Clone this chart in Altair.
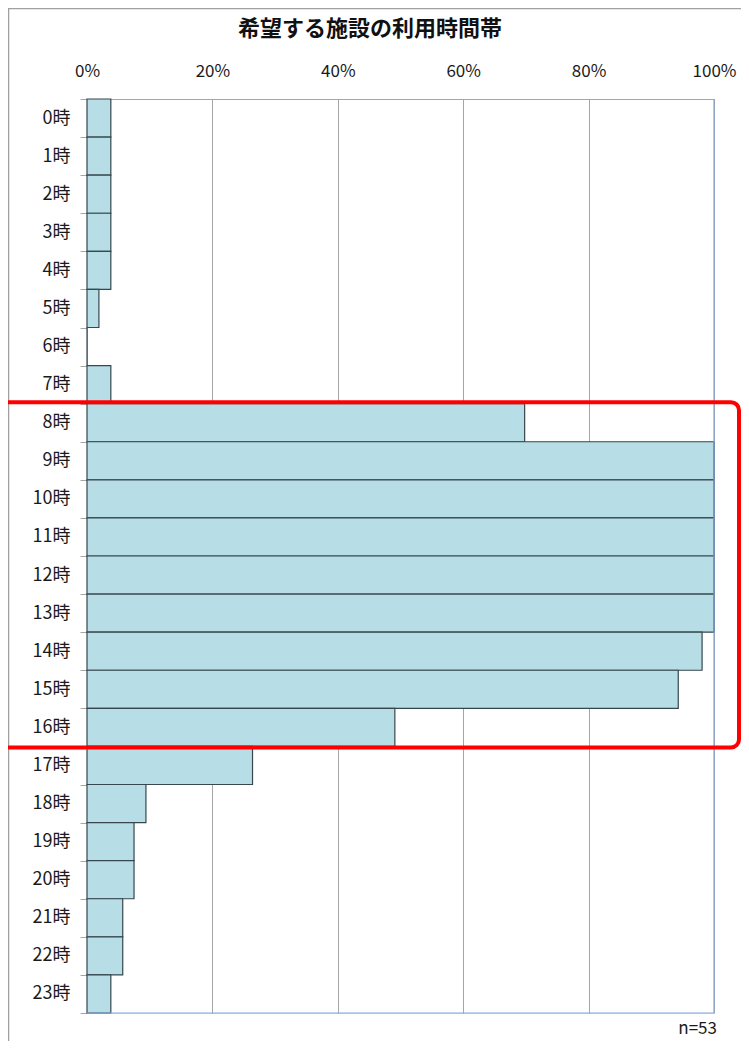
import altair as alt
import pandas as pd

hours = [f"{h}時" for h in range(24)]
pct = [3.8, 3.8, 3.8, 3.8, 3.8, 1.9, 0.0, 3.8,
       69.8, 100.0, 100.0, 100.0, 100.0, 100.0, 98.1, 94.3,
       49.1, 26.4, 9.4, 7.5, 7.5, 5.7, 5.7, 3.8]
x_ticks = [0, 20, 40, 60, 80, 100]
title_text = "希望する施設の利用時間帯"
note_text = "n=53"

df = pd.DataFrame({"hour": hours, "pct": pct})

FONT = "Noto Sans CJK JP"
W, H = 627, 914
band = H / len(hours)

bars = alt.Chart(df).mark_bar(
    fill="#b7dde6", stroke="#37474d", strokeWidth=1.2
).encode(
    y=alt.Y("hour:N", sort=hours, title=None,
            scale=alt.Scale(paddingInner=0, paddingOuter=0),
            axis=alt.Axis(labelFont=FONT, labelFontSize=18, labelColor="#1a1a1a",
                          labelPadding=10, tickBand="extent", tickSize=7,
                          tickColor="#a6a6a6", domainColor="#a6a6a6",
                          domainWidth=1, grid=False)),
    x=alt.X("pct:Q", title=None,
            scale=alt.Scale(domain=[0, 100], nice=False),
            axis=alt.Axis(orient="top", values=x_ticks, labelExpr="datum.value + '%'",
                          labelFont=FONT, labelFontSize=17, labelColor="#1a1a1a",
                          labelFlush=False,
                          labelPadding=19, tickSize=0, domainColor="#a6a6a6",
                          grid=True, gridColor="#a6a6a6", gridWidth=1)),
)

# blue right & bottom border of plot area
right_rule = alt.Chart(df.head(1)).mark_rule(color="#7fa7dc", strokeWidth=1.2).encode(
    x=alt.value(W), y=alt.value(0), y2=alt.value(H))
bottom_rule = alt.Chart(df.head(1)).mark_rule(color="#7fa7dc", strokeWidth=1.2).encode(
    x=alt.value(0), x2=alt.value(W), y=alt.value(H))

# outer frame
frame = alt.Chart(df.head(1)).mark_rect(
    fill=None, stroke="#a0a0a0", strokeWidth=1.5, clip=False
).encode(x=alt.value(-78.5), x2=alt.value(W + 200), y=alt.value(-90.5), y2=alt.value(H + 200))

# red highlight box around 8時–16時
start_i, end_i = hours.index("8時"), hours.index("16時") + 1
red_box = alt.Chart(df.head(1)).mark_rect(
    fill=None, stroke="#ff0000", strokeWidth=4, cornerRadius=8, clip=False
).encode(x=alt.value(-95), x2=alt.value(W + 25),
         y=alt.value(start_i * band - 1.5), y2=alt.value(end_i * band + 1))

title = alt.Chart(df.head(1)).mark_text(
    text=title_text, font=FONT, fontSize=22, fontWeight="bold", color="#111111",
    align="center", baseline="middle"
).encode(x=alt.value(283), y=alt.value(-70))

note = alt.Chart(df.head(1)).mark_text(
    text=note_text, font=FONT, fontSize=17, color="#1a1a1a",
    align="right", baseline="middle"
).encode(x=alt.value(W + 3), y=alt.value(H + 16))

chart = alt.layer(frame, bars, right_rule, bottom_rule, red_box, title, note).properties(
    width=W, height=H,
    autosize=alt.AutoSizeParams(type="none"),
    padding={"left": 79, "top": 91, "right": 27, "bottom": 28},
).configure_view(stroke=None).configure(background="white")

chart.save("out.html", embed_options={"renderer": "svg", "actions": False})
